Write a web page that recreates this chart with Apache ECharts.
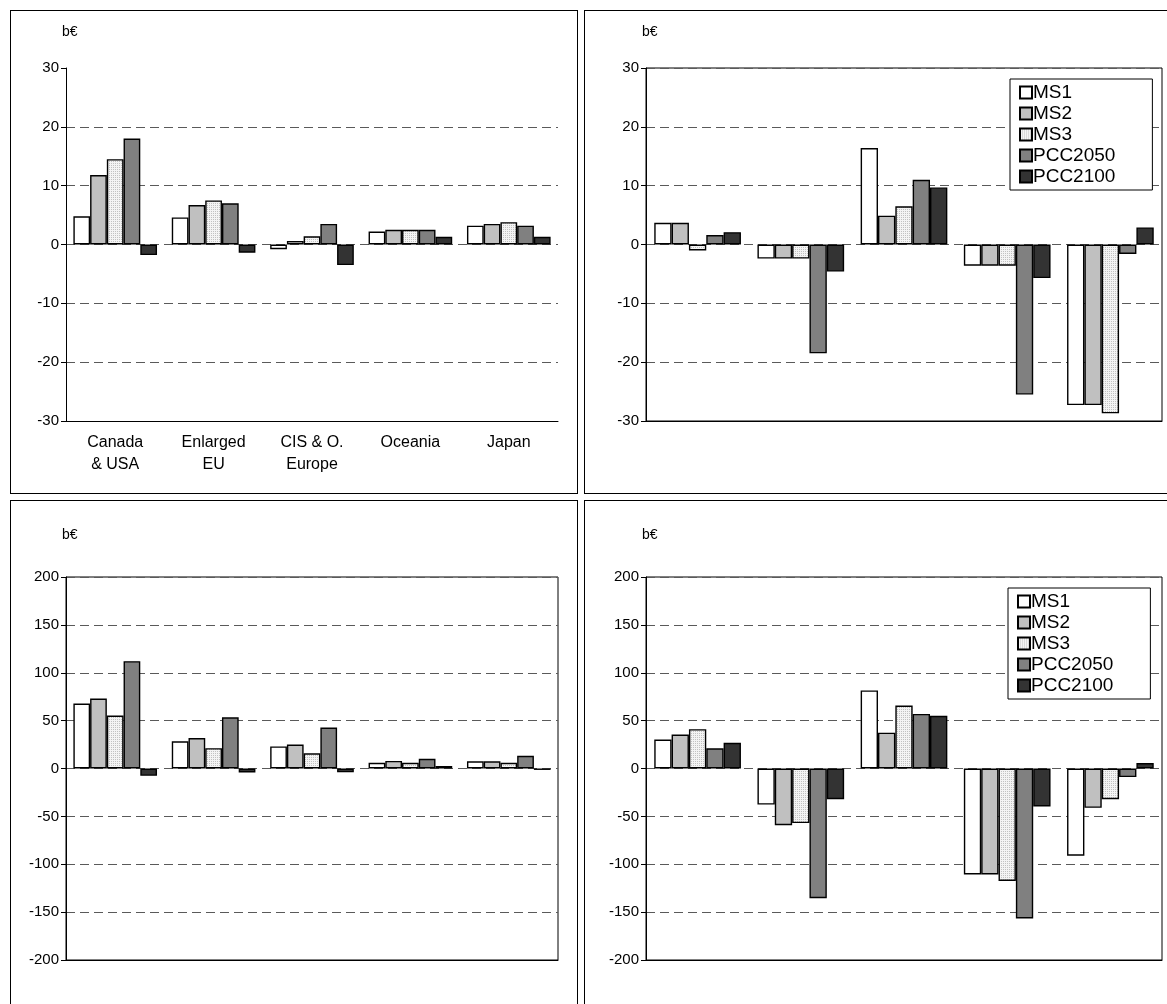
<!DOCTYPE html>
<html><head><meta charset="utf-8">
<script src="https://cdn.jsdelivr.net/npm/echarts@6/dist/echarts.min.js"></script>
<style>
body{margin:0;background:#fff;width:1167px;height:1004px;overflow:hidden;position:relative}
.p{position:absolute;border:1px solid #000;box-sizing:border-box;background:#fff}
</style></head><body>
<div id="tl" class="p" style="left:10px;top:10px;width:568px;height:484px"></div>
<div id="tr" class="p" style="left:584px;top:10px;width:600px;height:484px"></div>
<div id="bl" class="p" style="left:10px;top:500px;width:568px;height:520px"></div>
<div id="br" class="p" style="left:584px;top:500px;width:600px;height:520px"></div>
<script>
// ---- data ----
const categories = ['Canada\n& USA', 'Enlarged\nEU', 'CIS & O.\nEurope', 'Oceania', 'Japan'];
const seriesNames = ['MS1', 'MS2', 'MS3', 'PCC2050', 'PCC2100'];
const unitLabel = 'b€';

// top-left
const tlMS1 = [4.8, 4.6, -0.8, 2.2, 3.2];
const tlMS2 = [11.8, 6.7, 0.6, 2.5, 3.5];
const tlMS3 = [14.5, 7.5, 1.4, 2.5, 3.8];
const tlPCC2050 = [18.0, 7.0, 3.5, 2.5, 3.2];
const tlPCC2100 = [-1.8, -1.4, -3.5, 1.3, 1.3];
// top-right
const trMS1 = [3.7, -2.4, 16.4, -3.6, -27.3];
const trMS2 = [3.7, -2.4, 4.9, -3.6, -27.3];
const trMS3 = [-1.0, -2.4, 6.5, -3.6, -28.7];
const trPCC2050 = [1.6, -18.5, 11.0, -25.5, -1.6];
const trPCC2100 = [2.1, -4.6, 9.7, -5.7, 2.9];
// bottom-left
const blMS1 = [67.8, 28.4, 23.1, 6, 7.5];
const blMS2 = [73.1, 31.8, 25, 7.9, 7.5];
const blMS3 = [55.3, 21.2, 15.9, 6, 6];
const blPCC2050 = [112.1, 53.4, 42.8, 10.2, 13.2];
const blPCC2100 = [-7.6, -4.2, -4, 2.6, -1.5];
// bottom-right
const brMS1 = [30.2, -37.7, 81.5, -110.6, -91];
const brMS2 = [35.5, -59.2, 37.4, -110.6, -41.1];
const brMS3 = [41.1, -57, 65.7, -117.4, -32];
const brPCC2050 = [21.1, -135.5, 57, -156.6, -9];
const brPCC2100 = [26.8, -32, 55.1, -39.6, 5.7];

const topAxis = {min: -30, max: 30, interval: 10};
const bottomAxis = {min: -200, max: 200, interval: 50};

// ---- styles ----
function stipple() {
  const c = document.createElement('canvas');
  c.width = 2; c.height = 2;
  const g = c.getContext('2d');
  g.fillStyle = '#f4f4f4'; g.fillRect(0, 0, 2, 2);
  g.fillStyle = '#c2c2c2'; g.fillRect(0, 0, 1, 1);
  return c;
}
const fills = ['#ffffff', '#c0c0c0', {image: stipple(), repeat: 'repeat'}, '#808080', '#333333'];
const FONT = 'Liberation Sans, Arial, sans-serif';

function build(id, seriesData, axis, opts) {
  const chart = echarts.init(document.getElementById(id), null, {renderer: 'canvas'});
  const option = {
    animation: false,
    backgroundColor: '#fff',
    title: {text: unitLabel, left: opts.titleLeft, top: opts.titleTop, padding: 0,
      textStyle: {fontSize: 14, fontWeight: 'normal', fontFamily: FONT, color: '#000'}},
    grid: Object.assign({show: opts.box, borderColor: '#000', borderWidth: 1, backgroundColor: 'transparent'}, opts.grid),
    xAxis: {
      type: 'category', data: categories,
      axisLine: {show: true, onZero: false, lineStyle: {color: '#000', width: 1}},
      axisTick: {show: false},
      axisLabel: {show: opts.labels, interval: 0, fontSize: 16, lineHeight: 22, margin: 11, color: '#000', fontFamily: FONT}
    },
    yAxis: {
      type: 'value', min: axis.min, max: axis.max, interval: axis.interval,
      axisLine: {show: true, lineStyle: {color: '#000', width: 1}},
      axisTick: {show: true, length: 5, lineStyle: {color: '#000'}},
      axisLabel: {fontSize: 15, color: '#000', margin: 7, fontFamily: FONT},
      splitLine: {show: true, showMaxLine: opts.box, lineStyle: {color: '#5a5a5a', width: 1, type: [9, 5]}}
    },
    series: seriesNames.map((n, i) => ({
      name: n, type: 'bar', data: seriesData[i],
      barGap: '0%', barCategoryGap: opts.gap,
      itemStyle: {color: fills[i], borderColor: '#000', borderWidth: 1.4}
    }))
  };
  if (opts.legend) {
    option.legend = {
      data: seriesNames, orient: 'vertical', left: opts.legend.left, top: opts.legend.top,
      icon: 'rect', itemWidth: 12, itemHeight: 12, itemGap: 0,
      backgroundColor: '#fff', borderColor: '#000', borderWidth: 1,
      padding: [3, 37, 3, 9],
      textStyle: {fontSize: 19, color: '#000', fontFamily: FONT, lineHeight: 21, padding: [0, 0, 0, -4]},
      selectedMode: false
    };
  }
  chart.setOption(option);
}

build('tl', [tlMS1, tlMS2, tlMS3, tlPCC2050, tlPCC2100], topAxis,
  {box: false, labels: true, gap: '15%', titleLeft: 51, titleTop: 14,
   grid: {left: 55, top: 57, width: 492, height: 353}});
build('tr', [trMS1, trMS2, trMS3, trPCC2050, trPCC2100], topAxis,
  {box: true, labels: false, gap: '16%', titleLeft: 57, titleTop: 14,
   grid: {left: 61, top: 57, width: 516, height: 353},
   legend: {left: 425, top: 68}});
build('bl', [blMS1, blMS2, blMS3, blPCC2050, blPCC2100], bottomAxis,
  {box: true, labels: false, gap: '15%', titleLeft: 51, titleTop: 27,
   grid: {left: 55, top: 76, width: 492, height: 383}});
build('br', [brMS1, brMS2, brMS3, brPCC2050, brPCC2100], bottomAxis,
  {box: true, labels: false, gap: '16%', titleLeft: 57, titleTop: 27,
   grid: {left: 61, top: 76, width: 516, height: 383},
   legend: {left: 423, top: 87}});
</script>
</body></html>
